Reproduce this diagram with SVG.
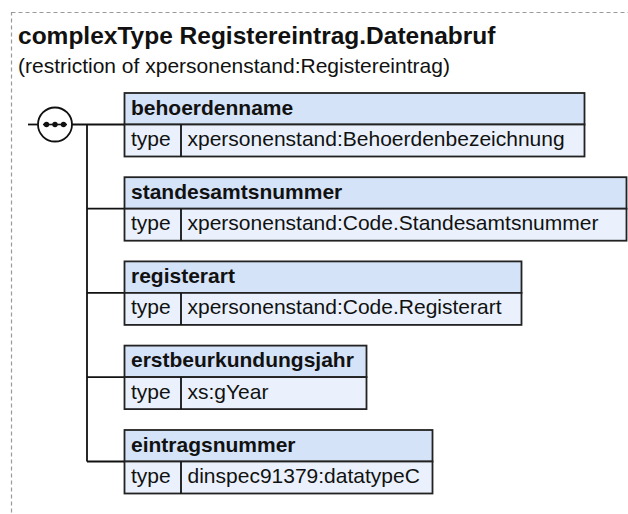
<svg xmlns="http://www.w3.org/2000/svg" width="628" height="514" viewBox="0 0 628 514">
<style>
.frame{fill:none;stroke:#9a9a9a;stroke-width:1.2;stroke-dasharray:4 3}
.title{font-family:"Liberation Sans",Arial,sans-serif;font-weight:bold;font-size:24.5px;fill:#111}
.sub{font-family:"Liberation Sans",Arial,sans-serif;font-size:21px;fill:#111}
.hd{fill:#d5e3f8;stroke:#222;stroke-width:1.8}
.tr{fill:#eaf1fc;stroke:#222;stroke-width:1.8}
.hdt{font-family:"Liberation Sans",Arial,sans-serif;font-weight:bold;font-size:21px;fill:#111}
.tt{font-family:"Liberation Sans",Arial,sans-serif;font-size:21px;fill:#111}
.ln{fill:none;stroke:#111;stroke-width:1.8}
</style>
<rect class="frame" x="11.5" y="12.5" width="700" height="600"/>
<text class="title" x="18" y="43.5">complexType Registereintrag.Datenabruf</text>
<text class="sub" x="18" y="72.5">(restriction of xpersonenstand:Registereintrag)</text>
<g id="connectors">
<line class="ln" x1="28" y1="124.5" x2="38" y2="124.5"/>
<line class="ln" x1="72" y1="124.5" x2="124.5" y2="124.5"/>
<line class="ln" x1="87" y1="124.5" x2="87" y2="461.5"/>
<line class="ln" x1="87" y1="208.7" x2="124.5" y2="208.7"/>
<line class="ln" x1="87" y1="292.9" x2="124.5" y2="292.9"/>
<line class="ln" x1="87" y1="377.1" x2="124.5" y2="377.1"/>
<line class="ln" x1="87" y1="461.5" x2="124.5" y2="461.5"/>
</g>
<g id="sequence">
<circle cx="55" cy="124.5" r="17" fill="#fff" stroke="#111" stroke-width="1.8"/>
<line x1="43" y1="124.5" x2="67" y2="124.5" stroke="#111" stroke-width="1.6"/>
<circle cx="46.5" cy="124.5" r="2.7" fill="#111"/>
<circle cx="55" cy="124.5" r="2.7" fill="#111"/>
<circle cx="63.5" cy="124.5" r="2.7" fill="#111"/>
</g>
<g id="behoerdenname">
<rect class="hd" x="124.5" y="93" width="460" height="31.5"/>
<rect class="tr" x="124.5" y="124.5" width="460" height="32"/>
<line class="ln" x1="181" y1="124.5" x2="181" y2="156.5"/>
<text class="hdt" x="131" y="114.5">behoerdenname</text>
<text class="tt" x="131" y="146">type</text>
<text class="tt" x="187.5" y="146">xpersonenstand:Behoerdenbezeichnung</text>
</g>
<g id="standesamtsnummer">
<rect class="hd" x="124.5" y="177.2" width="502" height="31.5"/>
<rect class="tr" x="124.5" y="208.7" width="502" height="32"/>
<line class="ln" x1="181" y1="208.7" x2="181" y2="240.7"/>
<text class="hdt" x="131" y="198.7">standesamtsnummer</text>
<text class="tt" x="131" y="230.2">type</text>
<text class="tt" x="187.5" y="230.2">xpersonenstand:Code.Standesamtsnummer</text>
</g>
<g id="registerart">
<rect class="hd" x="124.5" y="261.4" width="397" height="31.5"/>
<rect class="tr" x="124.5" y="292.9" width="397" height="32"/>
<line class="ln" x1="181" y1="292.9" x2="181" y2="324.9"/>
<text class="hdt" x="131" y="282.9">registerart</text>
<text class="tt" x="131" y="314.4">type</text>
<text class="tt" x="187.5" y="314.4">xpersonenstand:Code.Registerart</text>
</g>
<g id="erstbeurkundungsjahr">
<rect class="hd" x="124.5" y="345.6" width="242" height="31.5"/>
<rect class="tr" x="124.5" y="377.1" width="242" height="32"/>
<line class="ln" x1="181" y1="377.1" x2="181" y2="409.1"/>
<text class="hdt" x="131" y="367.1">erstbeurkundungsjahr</text>
<text class="tt" x="131" y="398.6">type</text>
<text class="tt" x="187.5" y="398.6">xs:gYear</text>
</g>
<g id="eintragsnummer">
<rect class="hd" x="124.5" y="430" width="308" height="31.5"/>
<rect class="tr" x="124.5" y="461.5" width="308" height="32"/>
<line class="ln" x1="181" y1="461.5" x2="181" y2="493.5"/>
<text class="hdt" x="131" y="451.5">eintragsnummer</text>
<text class="tt" x="131" y="483">type</text>
<text class="tt" x="187.5" y="483">dinspec91379:datatypeC</text>
</g>
</svg>
